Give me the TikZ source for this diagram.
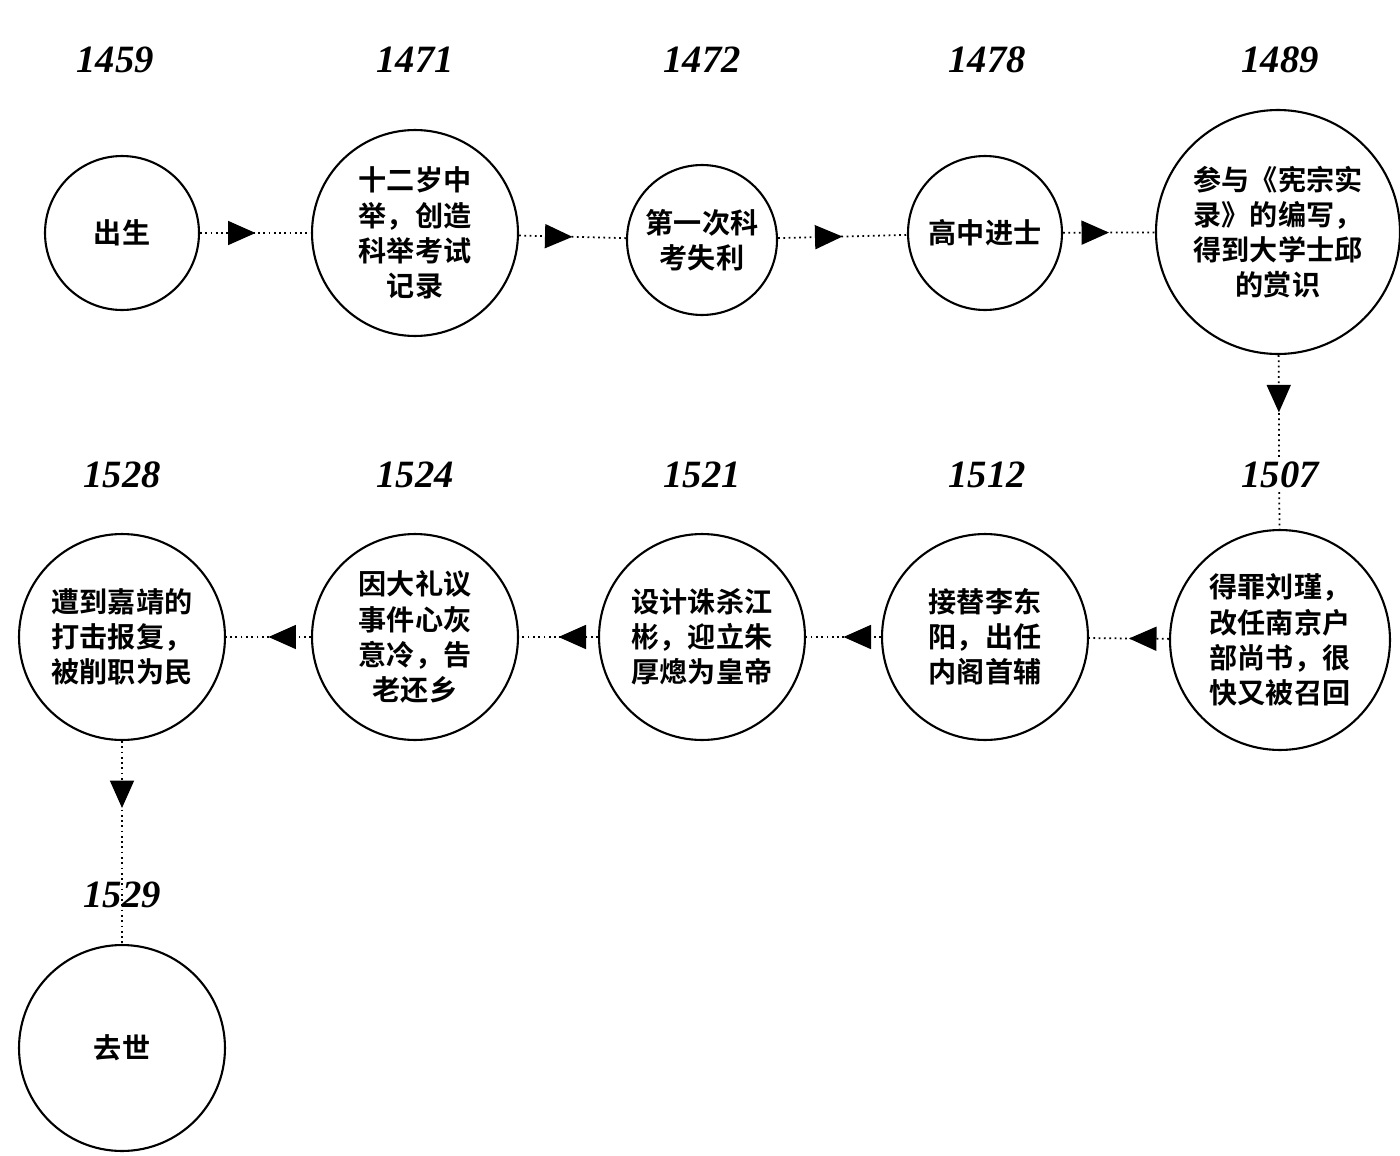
\documentclass[tikz,border=0pt]{standalone}
\usepackage{fontspec}
\setmainfont{Liberation Serif}
\newfontfamily\cjk{Noto Sans CJK SC}[BoldFont={* Bold}]
\usetikzlibrary{arrows.meta,decorations.markings}
\tikzset{
  event/.style={circle, draw=black, line width=1.2pt, align=center, font=\cjk\bfseries\fontsize{16}{20}\selectfont, inner sep=0pt},
  year/.style={font=\bfseries\itshape\fontsize{22}{24}\selectfont, fill=white, inner sep=1pt},
  link/.style={dotted, line width=1pt, postaction={decorate}, decoration={markings, mark=at position #1 with {\arrow[solid]{Triangle[length=0.55cm, width=0.48cm]}}}},
  link/.default=0.5
}
\begin{document}
\begin{tikzpicture}[x=0.02cm, y=-0.02cm]
		\useasboundingbox (0,0) rectangle (1400,1156);
		% top row
		\node[event, minimum size=3.08cm](birth) at (122,233){出生};
		\node[event, minimum size=4.12cm](juren) at (415,233){十二岁中\\举，创造\\科举考试\\记录};
		\node[event, minimum size=3.0cm](fail) at (702,240){第一次科\\考失利};
		\node[event, minimum size=3.08cm](jinshi) at (985,233){高中进士};
		\node[event, minimum size=4.88cm](shilu) at (1278,232){参与《宪宗实\\录》的编写，\\得到大学士邱\\的赏识};
		% second row
		\node[event, minimum size=4.4cm](liujin) at (1280,640){得罪刘瑾，\\改任南京户\\部尚书，很\\快又被召回};
		\node[event, minimum size=4.12cm](shoufu) at (985,637){接替李东\\阳，出任\\内阁首辅};
		\node[event, minimum size=4.12cm](jiangbin) at (702,637){设计诛杀江\\彬，迎立朱\\厚熜为皇帝};
		\node[event, minimum size=4.12cm](dali) at (415,637){因大礼议\\事件心灰\\意冷，告\\老还乡};
		\node[event, minimum size=4.12cm](jiajing) at (122,637){遭到嘉靖的\\打击报复，\\被削职为民};
		\node[event, minimum size=4.12cm](death) at (122,1048){去世};
		% connectors
		\draw[link] (birth) -- (juren);
		\draw[link] (juren) -- (fail);
		\draw[link] (fail) -- (jinshi);
		\draw[link] (jinshi) -- (shilu);
		\draw[link=0.33] (shilu) -- (liujin);
		\draw[link] (liujin) -- (shoufu);
		\draw[link] (shoufu) -- (jiangbin);
		\draw[link] (jiangbin) -- (dali);
		\draw[link] (dali) -- (jiajing);
		\draw[link=0.33] (jiajing) -- (death);
		% years
		\node[year](y1459) at (115,60){1459};
		\node[year](y1471) at (415,60){1471};
		\node[year](y1472) at (702,60){1472};
		\node[year](y1478) at (987,60){1478};
		\node[year](y1489) at (1280,60){1489};
		\node[year](y1507) at (1280,475){1507};
		\node[year](y1512) at (987,475){1512};
		\node[year](y1521) at (702,475){1521};
		\node[year](y1524) at (415,475){1524};
		\node[year](y1528) at (122,475){1528};
		\node[year, fill=none](y1529) at (122,895){1529};
	\end{tikzpicture}
\end{document}
